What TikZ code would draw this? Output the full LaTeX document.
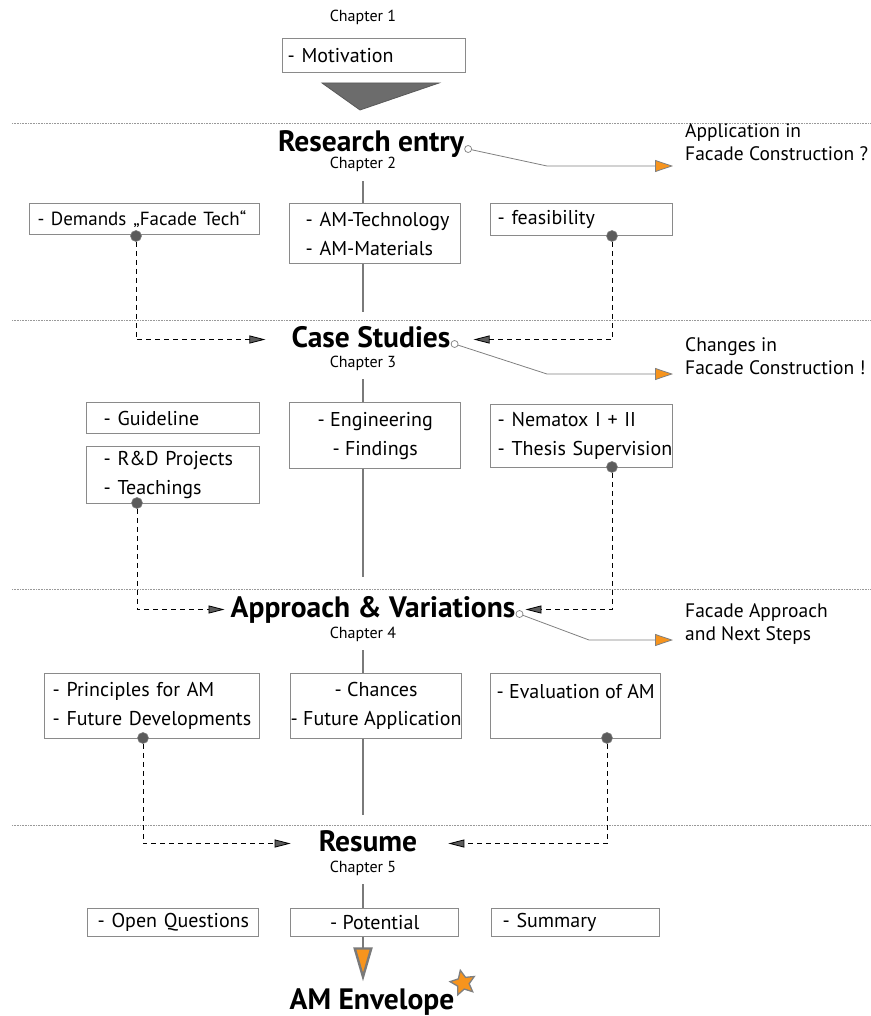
\documentclass[tikz,border=0pt]{standalone}
\usepackage{fontspec}
\setmainfont{PT Sans}
\usetikzlibrary{arrows.meta,shapes.geometric}
\definecolor{amorange}{HTML}{F7941D}
\definecolor{boxgray}{HTML}{8A8A8A}
\definecolor{spinegray}{HTML}{7A7A7A}
\definecolor{dotgray}{HTML}{5C5C5C}
\begin{document}
\begin{tikzpicture}[
  x=1pt, y=-1pt,
  box/.style={draw=boxgray, line width=1.4pt, anchor=north west, inner ysep=0pt, font=\fontsize{20}{29}\selectfont},
  lbox/.style 2 args={box, inner xsep=0pt, text width=#1, execute at begin node={\leftskip=#2\rightskip=0pt plus 1fil\parindent=0pt}},
  cbox/.style={box, align=center, inner xsep=0pt},
  heading/.style={font=\bfseries\fontsize{29.5}{32}\selectfont, anchor=base, inner sep=0pt, text height=19.5pt, text depth=4.5pt},
  chap/.style={font=\fontsize{16}{18}\selectfont, anchor=base, inner xsep=0pt, inner ysep=9pt, text depth=3pt},
  side/.style={font=\fontsize{19.5}{23}\selectfont, anchor=base west, align=left, inner sep=0pt},
  spine/.style={draw=spinegray, line width=2.4pt},
  sep/.style={draw=gray!80, line width=1pt, dash pattern=on 0.7pt off 0.9pt},
  dot/.style={circle, fill=dotgray, draw=gray, line width=0.6pt, minimum size=11pt, inner sep=0pt},
  hollow/.style={circle, fill=white, draw=gray, line width=0.7pt, minimum size=7pt, inner sep=0pt},
  flow/.style={draw=black, line width=0.8pt, dash pattern=on 5pt off 4pt, -{Triangle[length=16pt,width=8pt,fill=dotgray]}},
  callout/.style={draw=gray, line width=0.8pt, shorten >=12pt, -{Triangle[length=18pt,width=12pt,fill=amorange]}}
]
\useasboundingbox (0,0) rectangle (870,1016);

\foreach \y in {124,320,589,825}
  \draw[sep] (12,\y) -- (870,\y);

% chapter 1
\node[chap] (ch1) at (363,22) {Chapter 1};
\node[lbox={183pt}{5pt}, minimum height=34pt] (motiv) at (282,38) {- Motivation};
\draw[fill=gray!85!black, draw=gray!70!black, line width=0.8pt] (322,83) -- (439,83) -- (360,110) -- cycle;

% chapter 2
\node[heading] (research) at (371,152) {Research entry};
\node[chap] (ch2) at (363,169) {Chapter 2};
\node[lbox={230pt}{8pt}, minimum height=31pt, font=\fontsize{19}{29}\selectfont] (demands) at (29,203) {\mbox{- Demands\hspace{7pt}„Facade Tech“}};
\node[lbox={171pt}{16pt}, minimum height=60pt] (amtech) at (289,203) {- AM-Technology\\- AM-Materials};
\node[lbox={182pt}{7pt}, minimum height=32pt] (feas) at (490,203) {- feasibility};
\node[dot] (d1) at (136,236) {};
\node[dot] (d2) at (612,236) {};
\coordinate (s1) at (363,312);
\draw[spine] (ch2.south) -- (ch2.south |- amtech.north);
\draw[spine] (ch2.south |- amtech.south) -- (s1);
\node[hollow] (c1) at ([xshift=4pt,yshift=3pt]research.base east) {};
\node[side] (sideA) at (685,161) {Application in\\Facade Construction ?};
\draw[callout] (c1) -- ([xshift=-138pt,yshift=-5pt]sideA.base west) -- ([yshift=-5pt]sideA.base west);

% chapter 3
\node[heading] (case) at (371,347) {Case Studies};
\node[chap] (ch3) at (363,367) {Chapter 3};
\node[lbox={173pt}{17pt}, minimum height=31pt] (guide) at (86,402) {- Guideline};
\node[lbox={173pt}{17pt}, minimum height=57pt] (rnd) at (86,446) {- R\&D Projects\\- Teachings};
\node[cbox, minimum width=171pt, minimum height=66pt] (eng) at (289,402) {- Engineering\\- Findings};
\node[lbox={182pt}{7pt}, minimum height=63pt] (nema) at (490,404) {- Nematox I + II\\- Thesis Supervision};
\node[dot] (d3) at (137,503) {};
\node[dot] (d4) at (612,467) {};
\coordinate (s2) at (363,577);
\draw[spine] (ch3.south) -- (ch3.south |- eng.north);
\draw[spine] (ch3.south |- eng.south) -- (s2);
\draw[flow, shorten >=26pt] (d1) |- (case.west);
\draw[flow, shorten >=23pt] (d2) |- (case.east);
\node[hollow] (c2) at ([xshift=4pt,yshift=3pt]case.base east) {};
\node[side] (sideB) at (685,374) {Changes in\\Facade Construction !};
\draw[callout] (c2) -- ([xshift=-138pt]sideB.base west) -- (sideB.base west);

% chapter 4
\node[heading] (approach) at (373,617) {Approach \& Variations};
\node[chap] (ch4) at (363,638) {Chapter 4};
\node[lbox={215pt}{8pt}, minimum height=65pt] (princ) at (44,673) {- Principles for AM\\- Future Developments};
\node[cbox, minimum width=170pt, minimum height=65pt] (chances) at (290,673) {- Chances\\- Future Application};
\node[cbox, minimum width=170pt, minimum height=65pt] (eval) at (490,673) {- Evaluation of AM\\\mbox{}};
\node[dot] (d5) at (143,738) {};
\node[dot] (d6) at (607,738) {};
\coordinate (s3) at (363,815);
\draw[spine] (ch4.south) -- (ch4.south |- chances.north);
\draw[spine] (ch4.south |- chances.south) -- (s3);
\draw[flow, shorten >=6pt] (d3) |- (approach.west);
\draw[flow, shorten >=10pt] (d4) |- (approach.east);
\node[hollow] (c3) at ([xshift=4pt,yshift=3pt]approach.base east) {};
\node[side] (sideC) at (685,640) {Facade Approach\\and Next Steps};
\draw[callout] (c3) -- ([xshift=-96pt]sideC.base west) -- (sideC.base west);

% chapter 5
\node[heading] (resume) at (368,851) {Resume};
\node[chap] (ch5) at (363,872) {Chapter 5};
\node[lbox={171pt}{10pt}, minimum height=28pt] (open) at (87,908) {- Open Questions};
\node[cbox, minimum width=168pt, minimum height=28pt] (pot) at (290,908) {- Potential};
\node[lbox={168pt}{11pt}, minimum height=28pt] (summ) at (491,908) {- Summary};
\node[heading] (env) at (372,1009) {AM Envelope};
\node[star, star points=5, star point ratio=2.1, minimum size=26pt, inner sep=0pt, rotate=12, fill=amorange, draw=gray, line width=1.3pt] (spark) at (463,983) {};
\draw[spine] (ch5.south) -- (ch5.south |- pot.north);
\draw[spine, shorten >=8pt, -{Triangle[length=34pt,width=19pt,fill=amorange]}] (ch5.south |- pot.south) -- (ch5.south |- env.north);
\draw[flow, shorten >=28pt] (d5) |- (resume.west);
\draw[flow, shorten >=31pt] (d6) |- (resume.east);
\end{tikzpicture}
\end{document}
